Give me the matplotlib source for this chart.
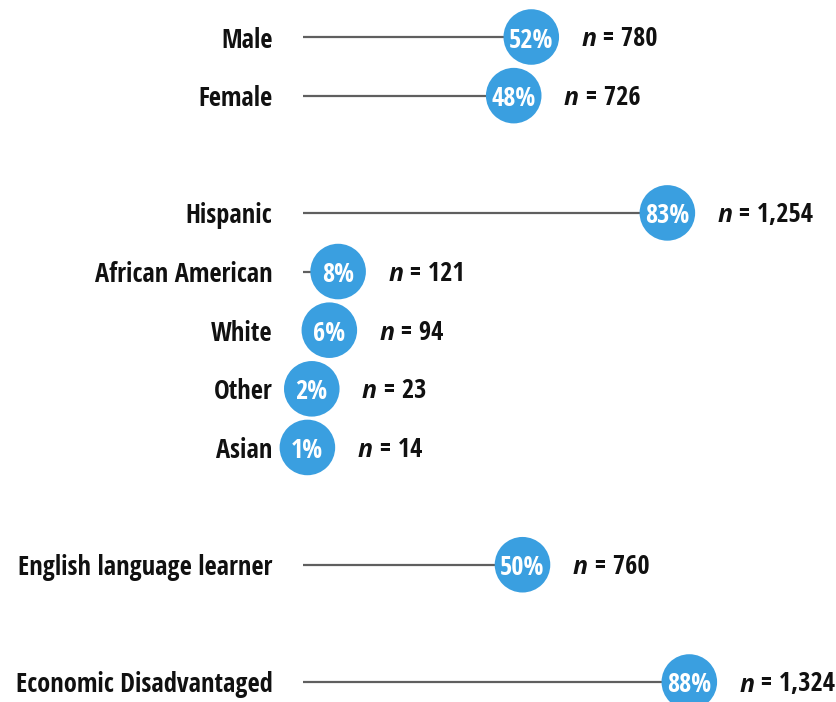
import matplotlib
matplotlib.use("Agg")
import matplotlib.pyplot as plt

# Student demographics: share of students and head count per group
groups = ["Male", "Female", None,
          "Hispanic", "African American", "White", "Other", "Asian", None,
          "English language learner", None,
          "Economic Disadvantaged"]
percents = [52, 48, None, 83, 8, 6, 2, 1, None, 50, None, 88]
counts = ["780", "726", None, "1,254", "121", "94", "23", "14", None, "760", None, "1,324"]

DOT = "#3A9FE0"
STEM = "#5f5f5f"
INK = "#111111"
COND = ["Open Sans Condensed", "DejaVu Sans"]
FS = 19

W, H, DPI = 837, 702, 100
fig = plt.figure(figsize=(W / DPI, H / DPI), dpi=DPI)

# axis spans 0-100 % horizontally, one row per slot vertically
x0, x1 = 303, 742
y_top, y_bot = 37, 682
ax = fig.add_axes([x0 / W, (H - y_bot) / H, (x1 - x0) / W, (y_bot - y_top) / H])
ax.set_xlim(0, 100)
ax.set_ylim(len(groups) - 1, 0)
ax.axis("off")

for row, (name, pct, cnt) in enumerate(zip(groups, percents, counts)):
    if name is None:
        continue
    ax.plot([0, pct], [row, row], color=STEM, lw=1.6, solid_capstyle="butt",
            zorder=1, clip_on=False)
    ax.scatter([pct], [row], s=1600, color=DOT, edgecolors="none", zorder=2,
               clip_on=False)
    ax.text(pct, row, f"{pct}%", ha="center", va="center_baseline", color="white",
            family=COND, fontweight="bold", fontsize=FS, zorder=3, clip_on=False)
    ax.annotate(name, xy=(0, row), xytext=(-22, 0), textcoords="offset points",
                ha="right", va="center_baseline", family=COND, fontweight="bold",
                fontsize=FS, color=INK, annotation_clip=False)
    n_txt = ax.annotate("n", xy=(pct, row), xytext=(36, 0), textcoords="offset points",
                        ha="left", va="center_baseline", family=["Open Sans", "DejaVu Sans"],
                        fontweight="bold", style="italic", fontsize=FS - 1, color=INK,
                        annotation_clip=False)
    ax.annotate(f" = {cnt}", xy=(1, 0), xycoords=n_txt, ha="left", va="bottom",
                family=COND, fontweight="bold", fontsize=FS, color=INK,
                annotation_clip=False)

fig.savefig("out.png", dpi=DPI)
